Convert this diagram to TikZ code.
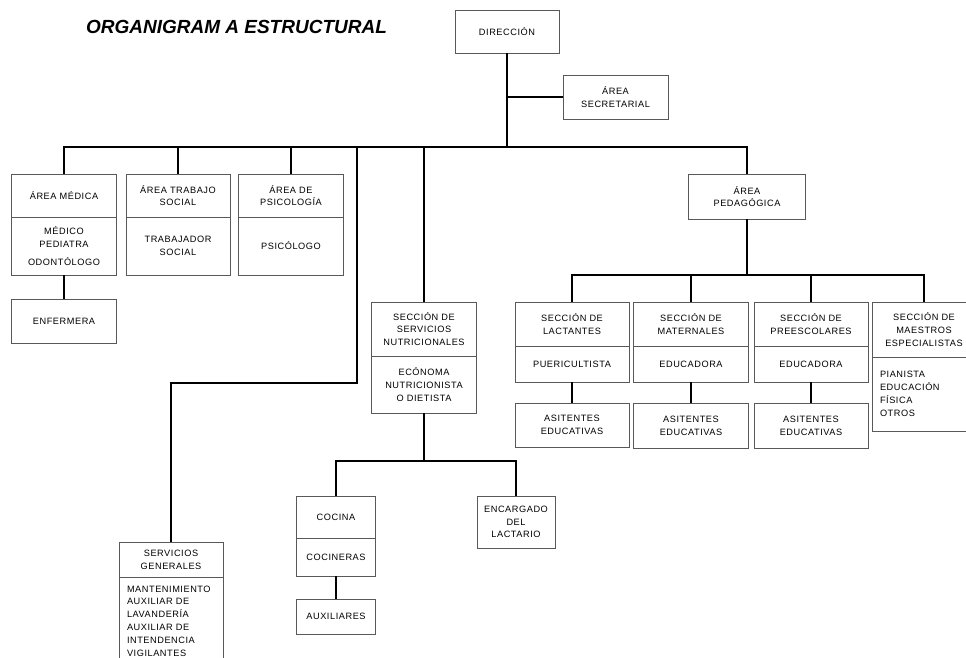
\documentclass[tikz,border=0pt]{standalone}
\usepackage{fontspec}
\setmainfont{Liberation Sans}
\newfontfamily\boxfont[LetterSpace=6]{Liberation Sans}
\definecolor{boxgray}{gray}{0.35}

\begin{document}
\begin{tikzpicture}[x=1pt,y=-1pt,
    box/.style={rectangle,draw=boxgray,line width=0.9pt,inner sep=0pt,outer sep=0pt,
                align=center,font=\boxfont\fontsize{9.2}{12.8}\selectfont},
    leftbox/.style={box,align=left,inner xsep=8pt},
    conn/.style={draw=black,line width=1.8pt}]
\useasboundingbox (0,0) rectangle (966,658);
\clip (0,0) rectangle (966,658);

\node[font=\fontsize{19}{22}\selectfont\bfseries\itshape] (title) at (236.5,27) {ORGANIGRAM A ESTRUCTURAL};

\begin{scope}[every node/.style={box}]
    % top
    \node[minimum width=104pt,minimum height=43pt] (dir) at (507,31.5) {DIRECCIÓN};
    \node[minimum width=105pt,minimum height=44pt] (sec) at (615.5,97) {ÁREA\\SECRETARIAL};
    % areas
    \node[minimum width=105pt,minimum height=43pt] (medTop) at (64,195.5) {ÁREA MÉDICA};
    \node[minimum width=105pt,minimum height=58pt] (medBot) at (64,246) {MÉDICO\\PEDIATRA\\[5pt]ODONTÓLOGO};
    \node[minimum width=105pt,minimum height=44pt] (enf) at (64,321) {ENFERMERA};
    \node[minimum width=104pt,minimum height=43pt] (trabTop) at (178,195.5) {ÁREA TRABAJO\\SOCIAL};
    \node[minimum width=104pt,minimum height=58pt] (trabBot) at (178,246) {TRABAJADOR\\SOCIAL};
    \node[minimum width=105pt,minimum height=43pt] (psiTop) at (291,195.5) {ÁREA DE\\PSICOLOGÍA};
    \node[minimum width=105pt,minimum height=58pt] (psiBot) at (291,246) {PSICÓLOGO};
    \node[minimum width=117pt,minimum height=45pt] (ped) at (747,196.5) {ÁREA\\PEDAGÓGICA};
    % nutricion
    \node[minimum width=105pt,minimum height=54pt] (nutTop) at (424,329) {SECCIÓN DE\\SERVICIOS\\NUTRICIONALES};
    \node[minimum width=105pt,minimum height=57pt] (nutBot) at (424,384.5) {ECÓNOMA\\NUTRICIONISTA\\O DIETISTA};
    \node[minimum width=79pt,minimum height=42pt] (cocTop) at (336,517) {COCINA};
    \node[minimum width=79pt,minimum height=38pt] (cocBot) at (336,557) {COCINERAS};
    \node[minimum width=79pt,minimum height=35pt] (aux) at (336,616.5) {AUXILIARES};
    \node[minimum width=78pt,minimum height=52pt] (enc) at (516,522) {ENCARGADO\\DEL\\LACTARIO};
    % servicios generales
    \node[minimum width=104pt,minimum height=35pt] (servTop) at (171,559.5) {SERVICIOS\\GENERALES};
    \node[leftbox,text width=88pt,minimum height=88pt] (servBot) at (171,621)
        {MANTENIMIENTO\\AUXILIAR DE\\LAVANDERÍA\\AUXILIAR DE\\INTENDENCIA\\VIGILANTES};
    % secciones pedagogicas
    \node[minimum width=114pt,minimum height=44pt] (lacTop) at (572,324) {SECCIÓN DE\\LACTANTES};
    \node[minimum width=114pt,minimum height=36pt] (lacBot) at (572,364) {PUERICULTISTA};
    \node[minimum width=114pt,minimum height=44pt] (lacAsi) at (572,425) {ASITENTES\\EDUCATIVAS};
    \node[minimum width=115pt,minimum height=44pt] (matTop) at (691,324) {SECCIÓN DE\\MATERNALES};
    \node[minimum width=115pt,minimum height=36pt] (matBot) at (691,364) {EDUCADORA};
    \node[minimum width=115pt,minimum height=45pt] (matAsi) at (691,425.5) {ASITENTES\\EDUCATIVAS};
    \node[minimum width=114pt,minimum height=44pt] (preTop) at (811,324) {SECCIÓN DE\\PREESCOLARES};
    \node[minimum width=114pt,minimum height=36pt] (preBot) at (811,364) {EDUCADORA};
    \node[minimum width=114pt,minimum height=45pt] (preAsi) at (811,425.5) {ASITENTES\\EDUCATIVAS};
    \node[minimum width=104pt,minimum height=55pt] (maeTop) at (924,329.5) {SECCIÓN DE\\MAESTROS\\ESPECIALISTAS};
    \node[leftbox,text width=88pt,minimum height=74pt] (maeBot) at (924,394) {PIANISTA\\EDUCACIÓN\\FÍSICA\\OTROS};
\end{scope}

\coordinate (bus) at (501,147);
\coordinate (servElbow) at (357,383);
\coordinate (cocBus) at (428,461);
\coordinate (pedBus) at (747,275);

\begin{scope}[every path/.style={conn}]
    \draw (dir.south) -- (dir.south |- bus);
    \draw (sec.west) -- (sec.west -| dir.south);
    \draw (medTop.north) |- (ped.north |- bus) -- (ped.north);
    \draw (trabTop.north) -- (trabTop.north |- bus);
    \draw (psiTop.north) -- (psiTop.north |- bus);
    \draw (nutTop.north) -- (nutTop.north |- bus);
    \draw (servTop.north) |- (servElbow) -- (servElbow |- bus);
    \draw (medBot.south) -- (enf.north);
    \draw (nutBot.south) -- (nutBot.south |- cocBus);
    \draw (cocTop.north) |- (enc.north |- cocBus) -- (enc.north);
    \draw (cocBot.south) -- (aux.north);
    \draw (ped.south) -- (ped.south |- pedBus);
    \draw (lacTop.north) |- (maeTop.north |- pedBus) -- (maeTop.north);
    \draw (matTop.north) -- (matTop.north |- pedBus);
    \draw (preTop.north) -- (preTop.north |- pedBus);
    \draw (lacBot.south) -- (lacAsi.north);
    \draw (matBot.south) -- (matAsi.north);
    \draw (preBot.south) -- (preAsi.north);
\end{scope}
\end{tikzpicture}
\end{document}
